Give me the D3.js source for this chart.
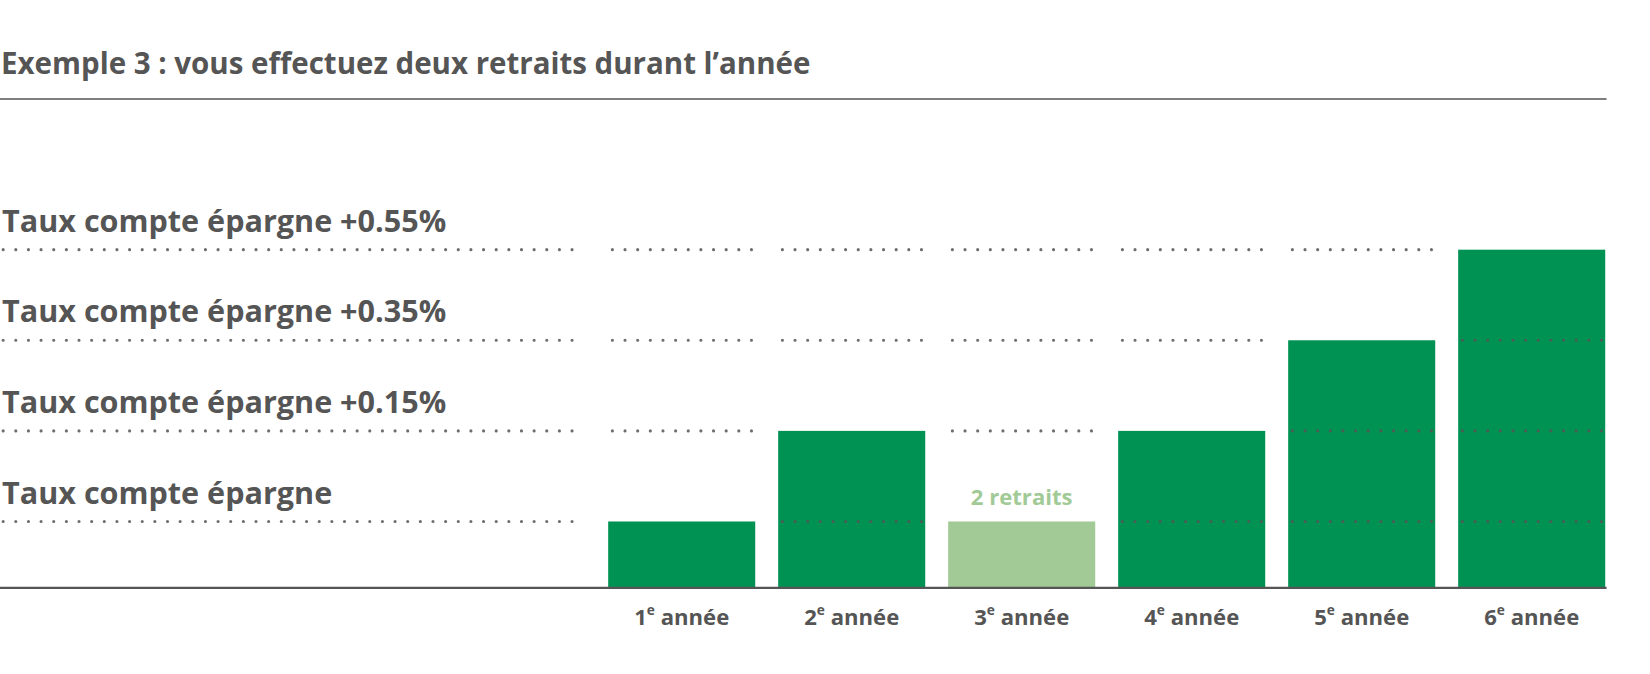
<!DOCTYPE html>
<html><head><meta charset="utf-8">
<script src="https://d3js.org/d3.v7.min.js"></script>
<style>body{margin:0;background:#fff}</style></head>
<body><svg id="c" width="1650" height="674"></svg>
<script>
const years = ["1","2","3","4","5","6"];
const levels = [0,1,0,1,2,3];
const withdrawals = [false,false,true,false,false,false];
const levelLabels = ["Taux compte épargne","Taux compte épargne +0.15%","Taux compte épargne +0.35%","Taux compte épargne +0.55%"];
const title = "Exemple 3 : vous effectuez deux retraits durant l’année";

const root = d3.select("#c");
const svg = root.append("g").attr("transform","scale(1.0535)");
const font = "'Open Sans', 'DejaVu Sans', sans-serif";
const grey = "#555";
svg.append("text").attr("x",1).attr("y",70).attr("font-family",font).attr("font-weight",700)
  .attr("font-size",28).attr("fill",grey).text(title);
svg.append("line").attr("x1",0).attr("x2",1525).attr("y1",94).attr("y2",94).attr("stroke",grey).attr("stroke-width",1.5);

const x = d3.scaleBand().domain(years).range([566,1535]).paddingInner(0.135).paddingOuter(0.07);
const y = d3.scaleLinear().domain([-63/86,3]).range([558,237]);

svg.selectAll("rect.bar").data(years).enter().append("rect")
  .attr("x",d=>x(d)).attr("width",x.bandwidth())
  .attr("y",(d,i)=>y(levels[i])).attr("height",(d,i)=>y(y.domain()[0])-y(levels[i]))
  .attr("fill",(d,i)=>withdrawals[i]?"#a1ca96":"#009252");

svg.append("line").attr("x1",0).attr("x2",1525).attr("y1",558).attr("y2",558).attr("stroke",grey).attr("stroke-width",2);

const segs = [[3,555]].concat(years.map(d=>[x(d)+4,x(d)+x.bandwidth()]));
[0,1,2,3].forEach(l=>{
  segs.forEach((s,j)=>{
    if (j>0 && levels[j-1]===l) return;
    svg.append("line").attr("x1",s[0]).attr("x2",s[1]).attr("y1",y(l)).attr("y2",y(l))
      .attr("stroke",grey).attr("stroke-opacity",0.85).attr("stroke-width",3).attr("stroke-linecap","round")
      .attr("stroke-dasharray","0 12");
  });
  svg.append("text").attr("x",2).attr("y",y(l)-17).attr("font-family",font).attr("font-weight",700)
    .attr("font-size",29).attr("fill",grey).text(levelLabels[l]);
});

years.forEach(d=>{
  const t = svg.append("text").attr("x",x(d)+x.bandwidth()/2).attr("y",593).attr("text-anchor","middle")
    .attr("font-family",font).attr("font-weight",700).attr("font-size",21).attr("fill",grey);
  t.append("tspan").text(d);
  t.append("tspan").attr("font-size",13).attr("dy",-9).text("e");
  t.append("tspan").attr("dy",9).text(" année");
});
years.forEach((d,i)=>{
  if(withdrawals[i]) svg.append("text").attr("x",x(d)+x.bandwidth()/2).attr("y",y(levels[i])-16)
    .attr("text-anchor","middle").attr("font-family",font).attr("font-weight",700).attr("font-size",21)
    .attr("fill","#a1ca96").text("2 retraits");
});
</script></body></html>
